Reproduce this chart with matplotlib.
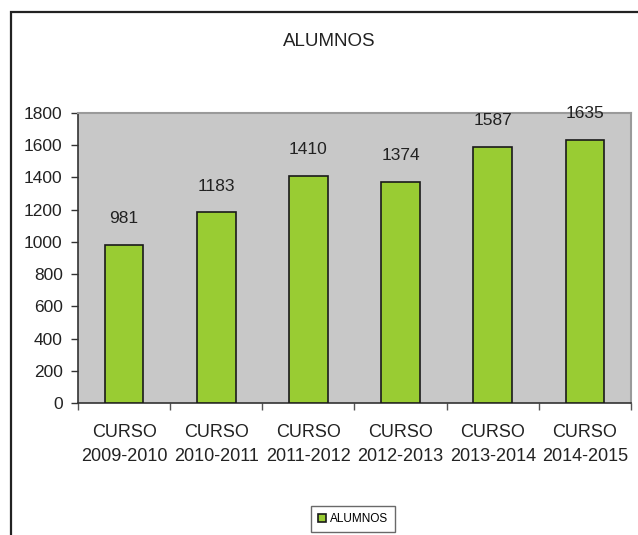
import numpy as np
import matplotlib
matplotlib.use("Agg")
import matplotlib.pyplot as plt
from matplotlib.patches import Rectangle

# data
cursos = ["CURSO\n2009-2010", "CURSO\n2010-2011", "CURSO\n2011-2012",
          "CURSO\n2012-2013", "CURSO\n2013-2014", "CURSO\n2014-2015"]
alumnos = [981, 1183, 1410, 1374, 1587, 1635]
yticks = [0, 200, 400, 600, 800, 1000, 1200, 1400, 1600, 1800]

plt.rcParams['font.family'] = ['Liberation Sans Narrow', 'Liberation Sans', 'DejaVu Sans']

fig = plt.figure(figsize=(6.38, 5.35), dpi=100)
W, H = 638, 535

# outer frame (cut off at right and bottom)
fig.patches.append(Rectangle((11 / W, -0.05), 1.2, 1 - 12 / H + 0.05,
                             transform=fig.transFigure, fill=False,
                             edgecolor="#222222", linewidth=1.6))

ax = fig.add_axes([78 / W, 1 - 403 / H, (631 - 78) / W, (403 - 113) / H])
ax.set_facecolor("#C8C8C8")

x = np.arange(len(alumnos))
bars = ax.bar(x, alumnos, width=0.42, color="#99CC33", edgecolor="#1a1a1a",
              linewidth=1.2, label="ALUMNOS", zorder=3)

for xi, v in zip(x, alumnos):
    ax.annotate(str(v), (xi, v), xytext=(0, 19), textcoords="offset points",
                ha="center", va="center", fontsize=12.5, color="#222222")

ax.set_xlim(-0.5, len(alumnos) - 0.5)
ax.set_ylim(0, 1800)
ax.set_yticks(yticks)
ax.set_xticks(x)
ax.set_xticklabels(cursos, fontsize=13, color="#222222", linespacing=1.55)
ax.set_xticks(np.arange(len(alumnos) + 1) - 0.5, minor=True)
ax.tick_params(axis="x", which="major", length=0, pad=15)
ax.tick_params(axis="x", which="minor", length=5, width=1, color="#555555", direction="out")
ax.tick_params(axis="y", length=5, width=1, color="#333333", pad=6,
               labelsize=12.5, labelcolor="#222222")

for side in ["top", "right"]:
    ax.spines[side].set_color("#9A9A9A")
    ax.spines[side].set_linewidth(1.5)
ax.spines["left"].set_color("#333333")
ax.spines["left"].set_linewidth(1.2)
ax.spines["bottom"].set_color("#333333")
ax.spines["bottom"].set_linewidth(1.2)

fig.text(329 / W, 1 - 41 / H, "ALUMNOS", ha="center", va="center",
         fontsize=13.5, color="#222222")

leg = fig.legend(loc="center", bbox_to_anchor=(353 / W, 1 - 519 / H),
                 fontsize=8.5, frameon=True, fancybox=False,
                 handlelength=0.7, handleheight=0.7, handletextpad=0.3,
                 borderpad=0.6, borderaxespad=0)
leg.get_frame().set_edgecolor("#444444")
leg.get_frame().set_linewidth(1.0)

fig.savefig("out.png", dpi=100)
